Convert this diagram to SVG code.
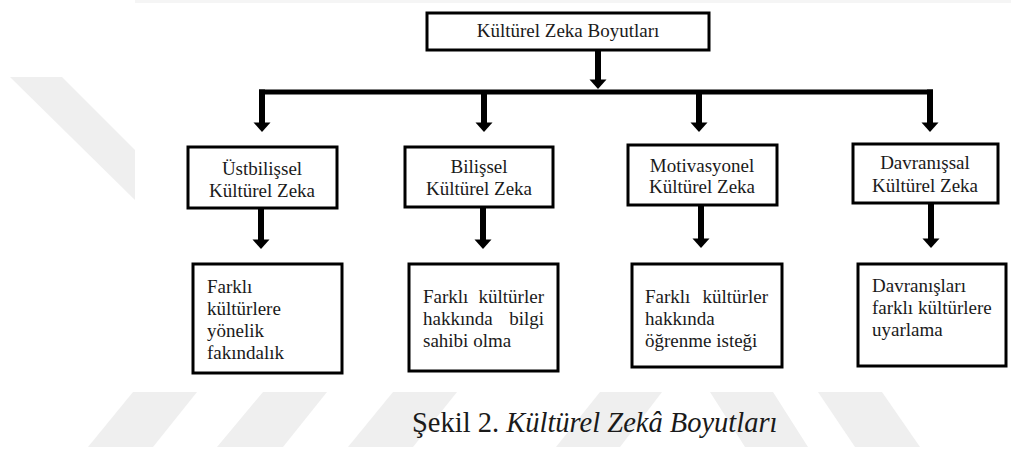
<svg xmlns="http://www.w3.org/2000/svg" width="1011" height="451" viewBox="0 0 1011 451">
<style>
.wm{fill:#efefef}
.box{fill:#fff;stroke:#000;stroke-width:3}
.t{font-size:19px;fill:#1a1a1a}
.c{text-anchor:middle}
.e{text-anchor:end}
.cn{stroke:#000;stroke-width:6;fill:none}
.bar{stroke:#000;stroke-width:5;fill:none}
.cap{font-size:28.5px;fill:#1a1a1a}
</style>
<defs>
<marker id="ah" markerUnits="userSpaceOnUse" markerWidth="12" markerHeight="18" refX="0.5" refY="8.5" orient="auto" overflow="visible">
<path d="M0,0 L9.5,8.5 L0,17 z" fill="#000"/>
</marker>
</defs>
<rect width="1011" height="451" fill="#fff"/>
<g id="watermark">
<rect x="135" y="0" width="876" height="3" fill="#f5f5f5"/>
<polygon class="wm" points="10,77 62,77 135,150 135,200"/>
<polygon class="wm" points="133,392 197,392 153,447 88,447"/>
<polygon class="wm" points="263,392 327,392 283,447 217,447"/>
<polygon class="wm" points="393,392 457,392 413,447 348,447"/>
<polygon class="wm" points="600,392 662,392 620,447 556,447"/>
<polygon class="wm" points="710,392 773,392 808,447 745,447"/>
<polygon class="wm" points="818,392 882,392 920,447 855,447"/>
</g>
<g id="connectors">
<line class="cn" x1="598" y1="50" x2="598" y2="80" marker-end="url(#ah)"/>
<line class="bar" x1="259" y1="92" x2="933" y2="92"/>
<line class="cn" x1="262" y1="89.5" x2="262" y2="123" marker-end="url(#ah)"/>
<line class="cn" x1="484" y1="92" x2="484" y2="123" marker-end="url(#ah)"/>
<line class="cn" x1="699" y1="92" x2="699" y2="123" marker-end="url(#ah)"/>
<line class="cn" x1="930" y1="89.5" x2="930" y2="123" marker-end="url(#ah)"/>
<line class="cn" x1="261" y1="208" x2="261" y2="240" marker-end="url(#ah)"/>
<line class="cn" x1="483" y1="207" x2="483" y2="240" marker-end="url(#ah)"/>
<line class="cn" x1="701" y1="205" x2="701" y2="239" marker-end="url(#ah)"/>
<line class="cn" x1="931" y1="203" x2="931" y2="239" marker-end="url(#ah)"/>
</g>
<g font-family="Liberation Serif, Tinos, Times New Roman, DejaVu Serif, serif">
<g id="root">
<rect class="box" x="427" y="13" width="282" height="37"/>
<text class="t c" x="568" y="37">Kültürel Zeka Boyutları</text>
</g>
<g id="ustbilissel">
<rect class="box" x="188" y="147" width="149" height="61"/>
<text class="t c" x="262" y="175">Üstbilişsel</text>
<text class="t c" x="262" y="197">Kültürel Zeka</text>
</g>
<g id="bilissel">
<rect class="box" x="405" y="147" width="148" height="60"/>
<text class="t c" x="479" y="173">Bilişsel</text>
<text class="t c" x="479" y="195">Kültürel Zeka</text>
</g>
<g id="motivasyonel">
<rect class="box" x="628" y="145" width="149" height="60"/>
<text class="t c" x="702" y="172">Motivasyonel</text>
<text class="t c" x="702" y="193">Kültürel Zeka</text>
</g>
<g id="davranissal">
<rect class="box" x="853" y="144" width="145" height="59"/>
<text class="t c" x="925" y="169">Davranışsal</text>
<text class="t c" x="925" y="192">Kültürel Zeka</text>
</g>
<g id="desc1">
<rect class="box" x="193" y="264" width="149" height="109"/>
<text class="t" x="207" y="293">Farklı</text>
<text class="t" x="207" y="315">kültürlere</text>
<text class="t" x="207" y="337">yönelik</text>
<text class="t" x="207" y="359">fakındalık</text>
</g>
<g id="desc2">
<rect class="box" x="409" y="264" width="149" height="107"/>
<text class="t" x="423" y="303">Farklı</text>
<text class="t e" x="544" y="303">kültürler</text>
<text class="t" x="423" y="325">hakkında</text>
<text class="t e" x="544" y="325">bilgi</text>
<text class="t" x="423" y="347">sahibi olma</text>
</g>
<g id="desc3">
<rect class="box" x="632" y="264" width="150" height="103"/>
<text class="t" x="645" y="303">Farklı</text>
<text class="t e" x="768" y="303">kültürler</text>
<text class="t" x="645" y="325">hakkında</text>
<text class="t" x="645" y="347">öğrenme isteği</text>
</g>
<g id="desc4">
<rect class="box" x="858" y="264" width="148" height="102"/>
<text class="t" x="872" y="292">Davranışları</text>
<text class="t" x="872" y="314">farklı kültürlere</text>
<text class="t" x="872" y="336">uyarlama</text>
</g>
<g id="caption">
<text class="cap" x="412" y="432">Şekil 2. <tspan font-style="italic">Kültürel Zekâ Boyutları</tspan></text>
</g>
</g>
</svg>
